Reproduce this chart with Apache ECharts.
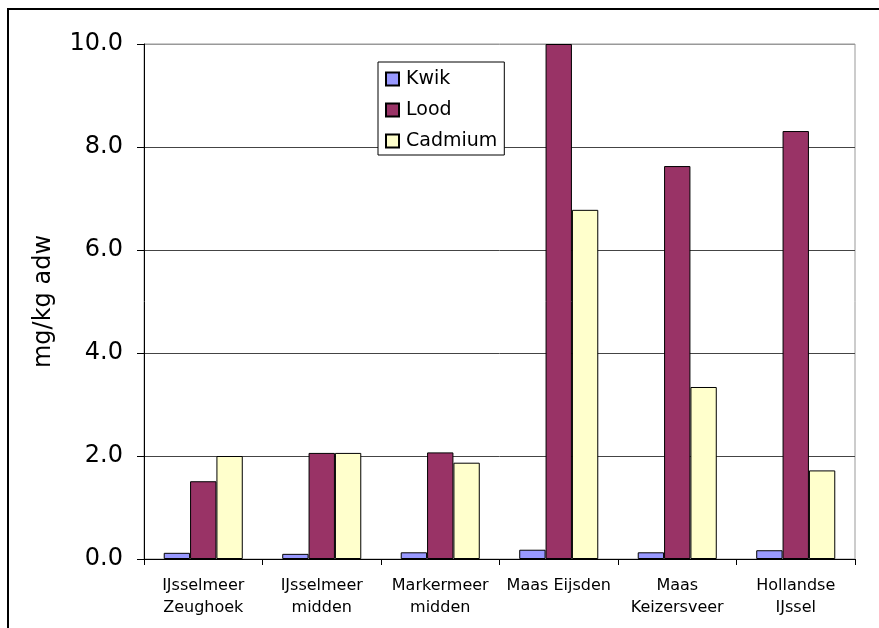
<!DOCTYPE html>
<html>
<head>
<meta charset="utf-8">
<script src="https://cdn.jsdelivr.net/npm/echarts@6/dist/echarts.min.js"></script>
<style>
  html, body { margin: 0; padding: 0; background: #fff; }
  #chart { width: 879px; height: 628px; }
</style>
</head>
<body>
<div id="chart"></div>
<script>
// Locations sampled and metal concentrations (mg/kg adw)
const categories = [
  'IJsselmeer\nZeughoek',
  'IJsselmeer\nmidden',
  'Markermeer\nmidden',
  'Maas Eijsden',
  'Maas\nKeizersveer',
  'Hollandse\nIJssel'
];
const kwik    = [0.12, 0.10, 0.13, 0.18, 0.13, 0.17];
const lood    = [1.51, 2.06, 2.07, 10.0, 7.63, 8.31];
const cadmium = [2.00, 2.06, 1.87, 6.78, 3.34, 1.72];
const yTicks  = { min: 0, max: 10, interval: 2 };

const FONT = 'DejaVu Sans';
const chart = echarts.init(document.getElementById('chart'), null, { renderer: 'canvas' });

function barSeries(name, data, color) {
  return {
    name: name,
    type: 'bar',
    data: data,
    barGap: '0%',
    barCategoryGap: '33.3%',
    itemStyle: { color: color, borderColor: '#000', borderWidth: 1 }
  };
}

chart.setOption({
  animation: false,
  backgroundColor: '#fff',
  graphic: [{
    type: 'rect',
    shape: { x: 8, y: 9, width: 900, height: 700 },
    style: { fill: 'none', stroke: '#000', lineWidth: 2 },
    z: 0
  }],
  grid: {
    left: 144, right: 24, top: 44, bottom: 69,
    show: true, borderColor: '#999', borderWidth: 1, backgroundColor: 'transparent'
  },
  legend: {
    orient: 'vertical',
    left: 378, top: 62,
    backgroundColor: '#fff',
    borderColor: '#000',
    borderWidth: 1,
    padding: [6, 7, 3, 7],
    itemWidth: 13, itemHeight: 13,
    itemGap: 9,
    icon: 'rect',
    textStyle: { fontFamily: FONT, fontSize: 19, color: '#000', lineHeight: 22, padding: [0, 0, 0, 2] },
    data: ['Kwik', 'Lood', 'Cadmium']
  },
  xAxis: {
    type: 'category',
    data: categories,
    axisLine: { lineStyle: { color: '#000', width: 1 } },
    axisTick: { show: true, length: 6, lineStyle: { color: '#000' } },
    axisLabel: { interval: 0, fontFamily: FONT, fontSize: 16, color: '#000', lineHeight: 22, margin: 16 }
  },
  yAxis: {
    type: 'value',
    min: yTicks.min, max: yTicks.max, interval: yTicks.interval,
    name: 'mg/kg adw',
    nameLocation: 'middle',
    nameRotate: 90,
    nameGap: 88,
    nameTextStyle: { fontFamily: FONT, fontSize: 24, color: '#000' },
    axisLine: { show: true, lineStyle: { color: '#000', width: 1 } },
    axisTick: { show: true, length: 7, lineStyle: { color: '#000' } },
    axisLabel: {
      fontFamily: FONT, fontSize: 24, color: '#000', margin: 21,
      formatter: v => v.toFixed(1)
    },
    splitLine: { show: true, lineStyle: { color: ['#444', '#444', '#444', '#444', '#444', '#999'], width: 1 } }
  },
  series: [
    barSeries('Kwik', kwik, '#9999FF'),
    barSeries('Lood', lood, '#993366'),
    barSeries('Cadmium', cadmium, '#FFFFCC')
  ]
});
</script>
</body>
</html>
